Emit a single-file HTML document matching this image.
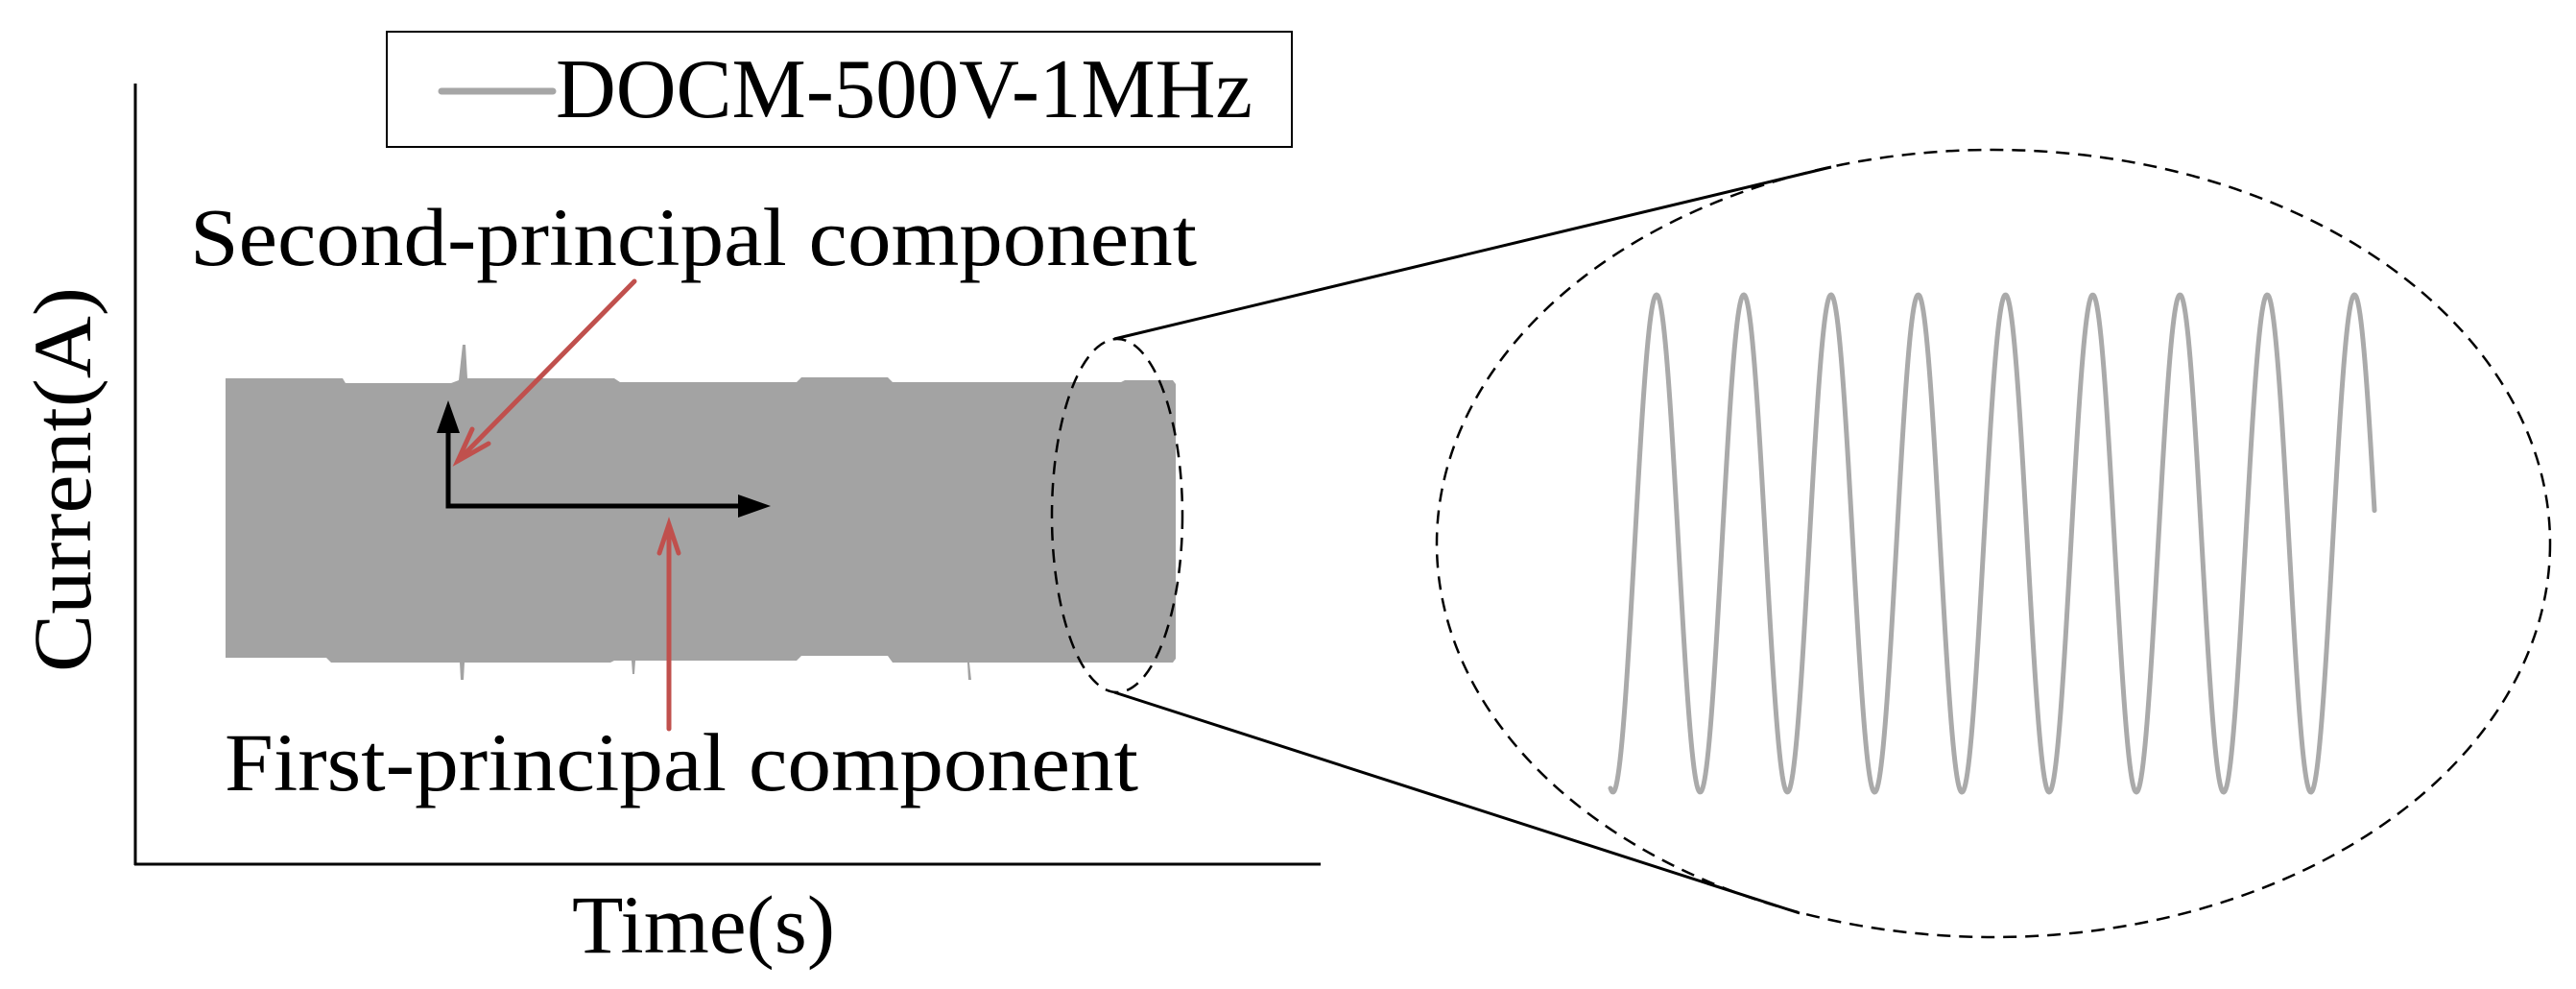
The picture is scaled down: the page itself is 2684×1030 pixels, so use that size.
<!DOCTYPE html>
<html><head><meta charset="utf-8"><style>
html,body{margin:0;padding:0;background:#fff;}
svg{display:block;}
text{font-family:"Liberation Serif",serif;fill:#000;}
</style></head><body>
<svg width="2684" height="1030" viewBox="0 0 2684 1030" xmlns="http://www.w3.org/2000/svg">
<!-- axes -->
<line x1="141" y1="87" x2="141" y2="901" stroke="#000" stroke-width="3"/>
<line x1="140" y1="900" x2="1376" y2="900" stroke="#000" stroke-width="3"/>
<!-- legend -->
<rect x="403" y="33" width="943" height="120" fill="#fff" stroke="#000" stroke-width="2"/>
<line x1="460" y1="95" x2="576" y2="95" stroke="#a6a6a6" stroke-width="7" stroke-linecap="round"/>
<text x="579" y="122" font-size="88" textLength="726" lengthAdjust="spacingAndGlyphs">DOCM-500V-1MHz</text>
<!-- band -->
<path d="M235,394 L357,394 L360,399 L470,399 L478,396 L482,359 L485,359 L487,394 L640,394 L646,398 L830,398 L835,393 L925,393 L930,398 L1168,398 L1172,396 L1222,396 L1225,400 L1225,686 L1222,690 L1010,690 L1012,708 L1009,708 L1008,690 L930,690 L925,683 L835,683 L830,688 L662,688 L661,702 L659,702 L658,688 L640,688 L636,690 L484,690 L483,708 L480,708 L479,690 L345,690 L340,685 L235,685 Z" fill="#a3a3a3"/>
<!-- black arrows -->
<polyline points="467,447 467,527 772,527" fill="none" stroke="#000" stroke-width="5"/>
<polygon points="467,417 455,451 479,451" fill="#000"/>
<polygon points="803,527 769,515 769,539" fill="#000"/>
<!-- red arrows -->
<g stroke="#c0504d" stroke-width="5" fill="none" stroke-linecap="round">
<line x1="661" y1="293" x2="477" y2="480"/>
<polyline points="492,447 477,480 509,462"/>
<line x1="697" y1="759" x2="697" y2="547"/>
<polyline points="687,576 697,546 707,576"/>
</g>
<!-- labels -->
<text x="198" y="276" font-size="86" textLength="1049" lengthAdjust="spacingAndGlyphs">Second-principal component</text>
<text x="234" y="823" font-size="86" textLength="952" lengthAdjust="spacingAndGlyphs">First-principal component</text>
<text x="596" y="992" font-size="86" textLength="274" lengthAdjust="spacingAndGlyphs">Time(s)</text>
<text transform="translate(94,700) rotate(-90)" x="0" y="0" font-size="86" textLength="401" lengthAdjust="spacingAndGlyphs">Current(A)</text>
<!-- small ellipse -->
<ellipse cx="1164" cy="537" rx="68" ry="184" fill="none" stroke="#000" stroke-width="2.5" stroke-dasharray="14,9"/>
<!-- connector lines -->
<line x1="1161" y1="353" x2="1908" y2="174" stroke="#000" stroke-width="3"/>
<line x1="1161" y1="721" x2="1875" y2="951" stroke="#000" stroke-width="3"/>
<!-- big ellipse -->
<ellipse cx="2077" cy="566" rx="580" ry="410" fill="none" stroke="#000" stroke-width="2.5" stroke-dasharray="14,9"/>
<!-- sine -->
<path id="sine" fill="none" stroke="#aaaaaa" stroke-width="5" stroke-linecap="round" stroke-linejoin="round" d=""/>
</svg>
<script>
(function(){
var d="";
for(var x=1678;x<=2474;x+=1){
  var y=566-259*Math.cos(2*Math.PI*(x-1726)/90.9);
  d+=(x===1678?"M":"L")+x+","+y.toFixed(1);
}
document.getElementById("sine").setAttribute("d",d);
})();
</script>
</body></html>
